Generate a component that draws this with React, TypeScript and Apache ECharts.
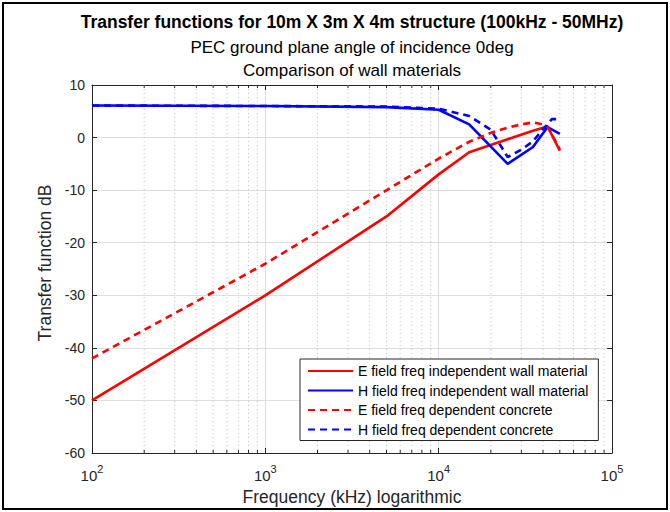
import React, { useEffect, useRef } from 'react';
import * as echarts from 'echarts';

const FONT = '"Liberation Sans", Arial, Helvetica, sans-serif';

const titleText = 'Transfer functions for 10m X 3m X 4m structure (100kHz - 50MHz)';
const subtitleLines = ['PEC ground plane angle of incidence 0deg', 'Comparison of wall materials'];
const xAxisName = 'Frequency (kHz) logarithmic';
const yAxisName = 'Transfer function dB';

const legendNames = [
  'E field freq independent wall material',
  'H field freq independent wall material',
  'E field freq dependent concrete',
  'H field freq dependent concrete',
];

// Frequencies in kHz and transfer functions in dB
const freqEIndep = [100, 1000, 5000, 10000, 15000, 25000, 35000, 42500, 50000];
const eIndep = [-50, -30, -15, -7, -2.8, -0.3, 1.3, 2.1, -2.5];

const freqHIndep = [100, 1000, 5000, 10000, 15000, 25000, 35000, 42500, 50000];
const hIndep = [6.1, 6.0, 5.8, 5.3, 2.5, -5.0, -1.8, 2.0, 0.7];

const freqEDep = [100, 1000, 10000, 15000, 20000, 25000, 30000, 35000, 40000, 42500, 50000];
const eDep = [-42, -24, -4, -0.8, 0.9, 1.9, 2.5, 2.9, 2.5, 2.1, -2.3];

const freqHDep = [100, 1000, 5000, 10000, 15000, 20000, 25000, 30000, 35000, 40000, 45000, 50000];
const hDep = [6.1, 6.0, 5.9, 5.5, 4.1, 1.5, -3.7, -2.3, -0.7, 1.6, 3.5, 3.5];

const minorFreqs = [
  200, 300, 400, 500, 600, 700, 800, 900,
  2000, 3000, 4000, 5000, 6000, 7000, 8000, 9000,
  20000, 30000, 40000, 50000, 60000, 70000, 80000, 90000,
];

const AXIS_COLOR = '#262626';
const GRID_COLOR = '#dfdfdf';
const MINOR_GRID_COLOR = '#c4c4c4';

const pairs = (xs: number[], ys: number[]) => xs.map((x, i) => [x, ys[i]]);

export default function App() {
  const ref = useRef<HTMLDivElement>(null);

  useEffect(() => {
    const chart = echarts.init(ref.current as HTMLDivElement, null, { renderer: 'svg' });

    const lineSeries = (name: string, data: number[][], color: string, dashed: boolean) => ({
      type: 'line',
      name,
      data,
      xAxisIndex: 0,
      yAxisIndex: 0,
      symbol: 'none',
      showSymbol: false,
      smooth: false,
      z: 3,
      lineStyle: { color, width: 2.6, type: dashed ? [7, 5] : 'solid' },
      itemStyle: { color },
    });

    const option: any = {
      animation: false,
      backgroundColor: '#ffffff',
      grid: { left: 92, right: 58, top: 85, bottom: 59, containLabel: false },
      xAxis: [
        {
          type: 'log',
          logBase: 10,
          min: 100,
          max: 100000,
          position: 'bottom',
          axisLine: { show: true, onZero: false, lineStyle: { color: AXIS_COLOR, width: 1 } },
          axisTick: { show: true, inside: true, length: 5, lineStyle: { color: AXIS_COLOR } },
          axisLabel: {
            show: true,
            margin: 10,
            formatter: (v: number) => `{b|10}{s|${Math.round(Math.log10(v))}}`,
            rich: {
              b: { fontSize: 15, fontFamily: FONT, color: AXIS_COLOR, lineHeight: 20, verticalAlign: 'bottom' },
              s: { fontSize: 11, fontFamily: FONT, color: AXIS_COLOR, lineHeight: 12, verticalAlign: 'top' },
            },
          },
          splitLine: { show: true, lineStyle: { color: GRID_COLOR, width: 1 } },
        },
        {
          type: 'log',
          logBase: 10,
          min: 100,
          max: 100000,
          position: 'top',
          axisLine: { show: true, onZero: false, lineStyle: { color: AXIS_COLOR, width: 1 } },
          axisTick: { show: true, inside: true, length: 5, lineStyle: { color: AXIS_COLOR } },
          axisLabel: { show: false },
          splitLine: { show: false },
        },
      ],
      yAxis: [
        {
          type: 'value',
          min: -60,
          max: 10,
          interval: 10,
          axisLine: { show: true, onZero: false, lineStyle: { color: AXIS_COLOR, width: 1 } },
          axisTick: { show: true, inside: true, length: 5, lineStyle: { color: AXIS_COLOR } },
          axisLabel: { fontSize: 14, fontFamily: FONT, color: AXIS_COLOR, margin: 7 },
          splitLine: { show: true, lineStyle: { color: GRID_COLOR, width: 1 } },
        },
        {
          type: 'value',
          min: -60,
          max: 10,
          interval: 10,
          position: 'right',
          axisLine: { show: true, onZero: false, lineStyle: { color: AXIS_COLOR, width: 1 } },
          axisTick: { show: true, inside: true, length: 5, lineStyle: { color: AXIS_COLOR } },
          axisLabel: { show: false },
          splitLine: { show: false },
        },
      ],
      legend: {
        data: legendNames,
        orient: 'vertical',
        left: 300,
        top: 359,
        itemWidth: 45,
        itemHeight: 14,
        itemGap: 5.5,
        padding: [5, 10, 4, 7],
        borderColor: AXIS_COLOR,
        borderWidth: 1,
        borderRadius: 0,
        backgroundColor: '#ffffff',
        itemStyle: { opacity: 0, borderWidth: 0 },
        textStyle: { fontSize: 14, color: '#000', fontFamily: FONT },
        selectedMode: false,
        z: 10,
      },
      graphic: [
        {
          type: 'rect',
          shape: { x: 3, y: 3, width: 664, height: 506 },
          style: { fill: 'none', stroke: '#000', lineWidth: 2 },
          z: 100,
        },
        {
          type: 'text',
          x: 352,
          y: 22,
          style: {
            text: titleText,
            font: `bold 17.5px ${FONT}`,
            fill: '#000',
            textAlign: 'center',
            textVerticalAlign: 'middle',
          },
        },
        ...subtitleLines.map((t, i) => ({
          type: 'text',
          x: 352,
          y: 47 + i * 23.5,
          style: {
            text: t,
            font: `17px ${FONT}`,
            fill: '#000',
            textAlign: 'center',
            textVerticalAlign: 'middle',
          },
        })),
        {
          type: 'text',
          x: 352,
          y: 497,
          style: {
            text: xAxisName,
            font: `17.5px ${FONT}`,
            fill: AXIS_COLOR,
            textAlign: 'center',
            textVerticalAlign: 'middle',
          },
        },
        {
          type: 'text',
          x: 45,
          y: 263,
          rotation: Math.PI / 2,
          style: {
            text: yAxisName,
            font: `17.5px ${FONT}`,
            fill: AXIS_COLOR,
            textAlign: 'center',
            textVerticalAlign: 'middle',
          },
        },
      ],
      series: [
        {
          type: 'custom',
          name: 'minor grid',
          xAxisIndex: 0,
          yAxisIndex: 0,
          silent: true,
          z: 1,
          data: minorFreqs.map((f) => [f, 0]),
          renderItem: (params: any, api: any) => {
            const x = api.coord([api.value(0), 0])[0];
            const cs = params.coordSys;
            const top = cs.y;
            const bottom = cs.y + cs.height;
            return {
              type: 'group',
              children: [
                {
                  type: 'line',
                  shape: { x1: x, y1: top, x2: x, y2: bottom },
                  style: { stroke: MINOR_GRID_COLOR, lineWidth: 1, lineDash: [1, 3] },
                },
                {
                  type: 'line',
                  shape: { x1: x, y1: bottom, x2: x, y2: bottom - 3 },
                  style: { stroke: AXIS_COLOR, lineWidth: 1 },
                },
                {
                  type: 'line',
                  shape: { x1: x, y1: top, x2: x, y2: top + 3 },
                  style: { stroke: AXIS_COLOR, lineWidth: 1 },
                },
              ],
            };
          },
        },
        lineSeries(legendNames[0], pairs(freqEIndep, eIndep), '#ff0000', false),
        lineSeries(legendNames[1], pairs(freqHIndep, hIndep), '#0000ff', false),
        lineSeries(legendNames[2], pairs(freqEDep, eDep), '#ff0000', true),
        lineSeries(legendNames[3], pairs(freqHDep, hDep), '#0000ff', true),
      ],
    };

    chart.setOption(option);
    return () => chart.dispose();
  }, []);

  return (
    <div
      ref={ref}
      style={{ position: 'fixed', left: 0, top: 0, width: 670, height: 512, background: '#ffffff' }}
    />
  );
}
